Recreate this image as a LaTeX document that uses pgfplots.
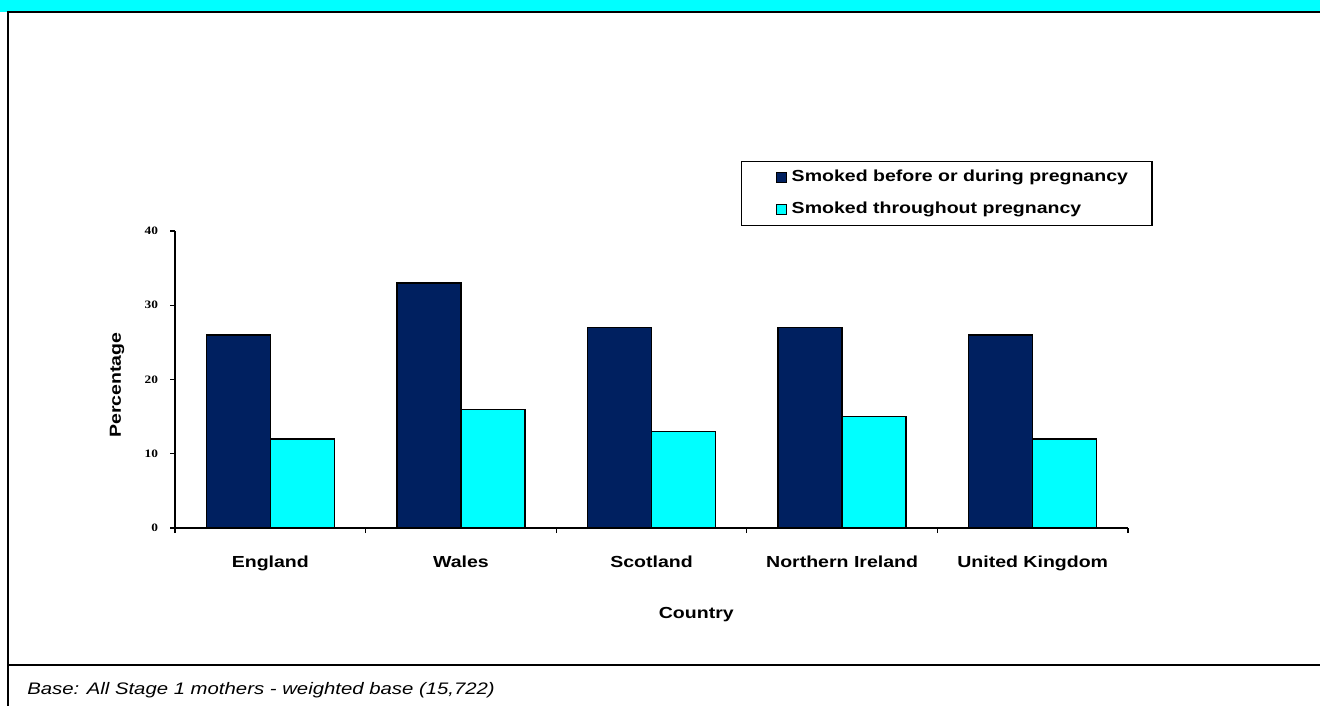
\documentclass[border=0pt]{standalone}
\usepackage{pgfplots}
\pgfplotsset{compat=1.18}
\usepackage{fontspec}
\setmainfont{Liberation Sans}[FakeStretch=1.22]
\newfontfamily\tickfont{Liberation Serif}[FakeStretch=1.18]
\newfontfamily\basefont{Liberation Sans}[FakeStretch=1.22]
\definecolor{navyb}{HTML}{002060}
\definecolor{cyanb}{HTML}{00FFFF}
\begin{document}
\begin{tikzpicture}[x=0.75pt,y=-0.75pt]
\useasboundingbox (0,0) rectangle (1320,706);
\fill[cyanb] (0,0) rectangle (1320,12);
\draw[line width=1.5pt] (7,12.5) -- (1320,12.5);
\draw[line width=1.5pt] (7.5,12) -- (7.5,706);
\draw[line width=1.5pt] (7,665) -- (1320,665);
\node[anchor=west, font=\basefont\itshape\fontsize{12.5}{14}\selectfont, inner sep=0pt] at (27,690) {Base: All Stage 1 mothers - weighted base (15,722)};
\coordinate (A) at (175,528);
\begin{axis}[
  at={(A)}, anchor=south west,
  scale only axis, width=714.75pt, height=222.75pt,
  xmin=-0.5, xmax=4.5, ymin=0, ymax=40,
  enlargelimits=false,
  axis lines=left,
  axis line style={-, line width=1.2pt},
  tick align=outside,
  major tick length=3.75pt, minor tick length=3.75pt,
  tick style={line width=1pt, black},
  ytick={0,10,20,30,40},
  yticklabel style={font=\tickfont\bfseries\fontsize{8.5}{10}\selectfont, xshift=-5.5pt},
  /pgf/number format/assume math mode=true,
  xtick={0,1,2,3,4},
  xticklabels={England, Wales, Scotland, Northern Ireland, United Kingdom},
  major x tick style={draw=none},
  minor xtick={-0.5,0.5,1.5,2.5,3.5,4.5},
  xticklabel style={font=\bfseries\fontsize{12}{14}\selectfont, yshift=-13.5pt},
  xlabel={Country},
  xlabel style={at={(axis description cs:0.547,-0.293)}, anchor=center, font=\bfseries\fontsize{12}{14}\selectfont},
  ylabel={Percentage},
  ylabel style={at={(axis description cs:-0.0609,0.4815)}, anchor=center, font=\bfseries\fontsize{12}{14}\selectfont},
  ybar=0pt, bar width=0.336,
  legend style={at={(0.594,1.2357)}, anchor=north west, draw=black, line width=1pt,
    inner xsep=16pt, inner ysep=0pt, font=\bfseries\fontsize{12}{14}\selectfont,
    nodes={text height=9pt, text depth=3pt, inner ysep=6pt}},
  legend cell align=left,
  legend image code/.code={\path (0pt,0pt) (18.5pt,0pt); \draw[#1, draw=black, line width=0.6pt] (9.5pt,-3.75pt) rectangle (17pt,3.75pt);},
]
\addplot[fill=navyb, draw=black, line width=1pt] coordinates {(0,26) (1,33) (2,27) (3,27) (4,26)};
\addplot[fill=cyanb, draw=black, line width=1pt] coordinates {(0,12) (1,16) (2,13) (3,15) (4,12)};
\legend{Smoked before or during pregnancy, Smoked throughout pregnancy}
\end{axis}
\end{tikzpicture}
\end{document}
